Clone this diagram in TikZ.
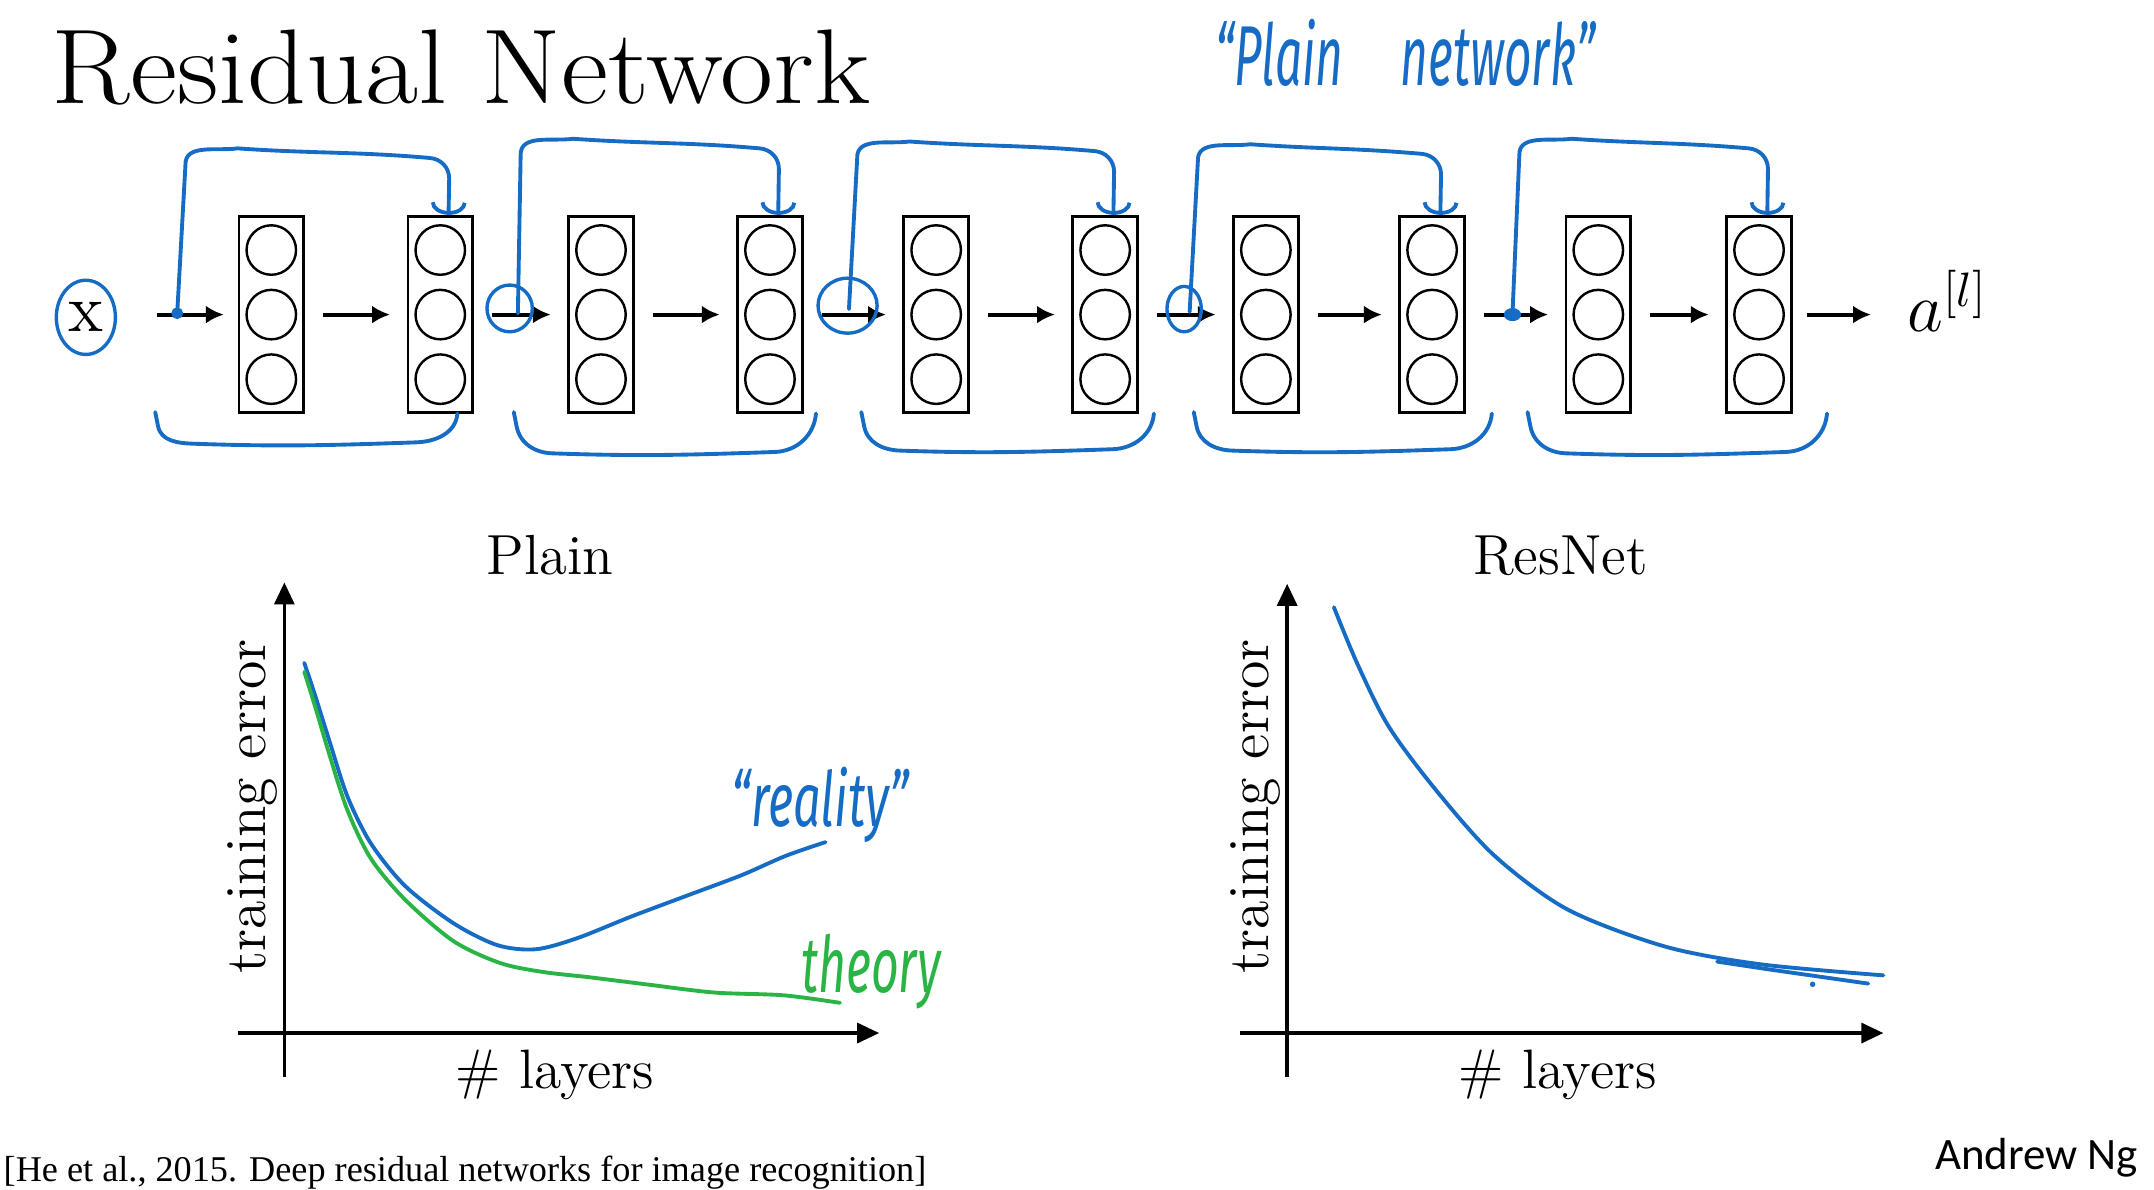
\documentclass[tikz,border=0pt]{standalone}
\usepackage{fontspec}
\usetikzlibrary{arrows.meta,positioning,calc,shapes.geometric}
\newfontfamily\handfont{Fira Sans}
\newfontfamily\citefont{Liberation Serif}
\newfontfamily\signfont{Carlito}
\definecolor{inkblue}{RGB}{22,108,196}
\definecolor{inkgreen}{RGB}{42,180,70}
\tikzset{
  layerbox/.style={draw, line width=0.6pt, minimum width=0.47cm, minimum height=1.43cm, inner sep=0pt},
  neuron/.style={draw, circle, line width=0.5pt, minimum size=0.36cm, inner sep=0pt},
  fwdln/.style={-{Latex[length=1.3mm,width=1.3mm]}, line width=0.85pt},
  skipln/.style={inkblue, line width=0.8pt, line cap=round, line join=round, -{Arc Barb[length=0.9mm,width=2.6mm]}},
  braceln/.style={inkblue, line width=0.8pt, line cap=round, line join=round},
  loopmark/.style={ellipse, draw=inkblue, line width=0.7pt, inner sep=0pt},
  axisln/.style={-{Triangle[length=1.6mm,width=1.45mm]}, line width=0.7pt},
  curveln/.style={line width=0.8pt, line cap=round, line join=round},
}

\begin{document}
\begin{tikzpicture}[x=0.01cm, y=-0.01cm]
  \useasboundingbox (0,0) rectangle (1568,866);
  \node[anchor=base west, inner sep=0pt, font=\fontsize{22}{24}\selectfont] (title) at (37,75)
    {\scalebox{1.085}[1]{Residual Network}};
  \node[anchor=base west, inner sep=0pt, inkblue, font=\handfont\itshape\fontsize{11}{12}\selectfont] (plainnote) at (884,62)
    {\scalebox{0.9}[1.6]{“Plain\hspace{1.2em}network”}};

  % input, layers, output
  \node[loopmark, minimum width=0.43cm, minimum height=0.54cm, font=\fontsize{14}{16}\selectfont] (x) at (62.5,231) {x};
  \foreach \i/\cx in {1/197.5, 2/320.5, 3/437.5, 4/560.5, 5/681.5, 6/804.5, 7/921.5, 8/1042.5, 9/1163.5, 10/1280.5} {
    \node[layerbox] (L\i) at (\cx,229) {};
    \foreach \j/\cy in {a/182, b/229, c/276}
      \node[neuron] (L\i\j) at (\cx,\cy) {};
  }
  \node[anchor=base west, inner sep=0pt, font=\fontsize{14.5}{16}\selectfont] (out) at (1388,241.5) {$a^{[l]}$};

  % forward arrows
  \draw[fwdln, shorten <=0.29cm, shorten >=0.10cm] (x.east |- L1) -- (L1);
  \foreach \i/\n in {1/2, 2/3, 3/4, 4/5, 5/6, 6/7, 7/8, 8/9, 9/10}
    \draw[fwdln, shorten <=0.13cm, shorten >=0.12cm] (L\i) -- (L\n);
  \draw[fwdln, shorten <=0.10cm, shorten >=0.26cm] (L10) -- (L10 -| out.west);

  % shortcut junctions
  \foreach \k/\px/\py in {1/129/228, 2/377/228, 3/618/225, 4/866/227, 5/1101/229}
    \coordinate (s\k) at (\px,\py);
  \node[loopmark, minimum size=0.06cm, fill=inkblue] (m1) at (s1) {};
  \node[loopmark, minimum width=0.33cm, minimum height=0.34cm] (m2) at (371,224.5) {};
  \node[loopmark, minimum width=0.43cm, minimum height=0.40cm] (m3) at (617,222.5) {};
  \node[loopmark, minimum width=0.25cm, minimum height=0.33cm] (m4) at (862,225) {};
  \node[loopmark, minimum width=0.10cm, minimum height=0.07cm, fill=inkblue] (m5) at (s5) {};

  % shortcuts over each pair
  \foreach \k/\t/\vx/\tp/\dx in {1/L2/135/108/327, 2/L4/379/101/567, 3/L6/624/103/811, 4/L8/872/105/1049, 5/L10/1106/101/1287}
    \draw[skipln] (s\k) -- (\vx,\tp+12) to[out=92,in=188] (\vx+38,\tp)
      to[out=-4,in=175] (\dx-14,\tp+7) to[out=-5,in=90] (\dx,\tp+22) -- ([xshift=0.06cm]\t.north);

  % brackets under each pair
  \foreach \l/\r/\bt in {113/333/323, 374/594/330, 627/840/328, 869/1086/328, 1112/1330/330}
    \draw[braceln] (\l,300) -- (\l+2,310) to[out=-80,in=178] (\l+28,\bt)
      to[out=-2,in=182] (\r-30,\bt-1) to[out=2,in=-95] (\r,301);

  % plain network plot
  \node[anchor=base, font=\fontsize{11.7}{13}\selectfont] (plaintitle) at (400.5,418) {Plain};
  \coordinate (O1) at (207,752);
  \draw[axisln] ($(O1)+(0,32)$) -- ($(O1)+(0,-328)$);
  \draw[axisln] ($(O1)+(-34,0)$) -- ($(O1)+(433,0)$);
  \node[rotate=90, font=\fontsize{12}{14}\selectfont] (ylab1) at (184,587) {training error};
  \node[anchor=base, font=\fontsize{11.5}{13}\selectfont] (xlab1) at (404,792) {\# layers};
  \draw[curveln, inkblue] plot[smooth] coordinates {(221.5,482.5) (229,505) (240,540) (253,580)
    (270,614) (295,645) (330,672) (362,688) (390,691) (420,683) (460,667) (500,652)
    (540,637) (572,623) (601,613)};
  \draw[curveln, inkgreen] plot[smooth] coordinates {(221.5,489) (229,513) (240,550) (253,590)
    (270,625) (295,655) (330,685) (364,701) (395,707.5) (430,711.5) (470,716.5)
    (520,722.5) (570,724.5) (611.5,730)};
  \node[inner sep=0pt, inkblue, font=\handfont\itshape\fontsize{9}{10}\selectfont] (realnote) at (597,586)
    {\scalebox{1.12}[1.75]{“reality”}};
  \node[inner sep=0pt, inkgreen, font=\handfont\itshape\fontsize{9.5}{10}\selectfont] (theorynote) at (634,707)
    {\scalebox{1.05}[1.7]{theory}};

  % resnet plot
  \node[anchor=base, font=\fontsize{11.7}{13}\selectfont] (restitle) at (1136,418) {ResNet};
  \coordinate (O2) at (937,752);
  \draw[axisln] ($(O2)+(0,32)$) -- ($(O2)+(0,-327)$);
  \draw[axisln] ($(O2)+(-34,0)$) -- ($(O2)+(434,0)$);
  \node[rotate=90, font=\fontsize{12}{14}\selectfont] (ylab2) at (914,587) {training error};
  \node[anchor=base, font=\fontsize{11.5}{13}\selectfont] (xlab2) at (1134,792) {\# layers};
  \draw[curveln, inkblue] plot[smooth] coordinates {(971,442) (988,483) (1011,529) (1046,576)
    (1088,623) (1141,662) (1212,689) (1282,702) (1371,710)};
  \draw[curveln, inkblue] plot[smooth] coordinates {(1250,700) (1290,706) (1325,711) (1360,716)};
  \fill[inkblue] (1319.5,716.5) circle (0.02cm);

  % footer
  \node[anchor=base west, inner sep=0pt, font=\citefont\fontsize{7.5}{8}\selectfont] (cite) at (2,860)
    {[He et al., 2015. Deep residual networks for image recognition]};
  \node[anchor=base east, inner sep=0pt, font=\signfont\fontsize{9.3}{11}\selectfont] (sign) at (1557,851) {Andrew Ng};
\end{tikzpicture}
\end{document}
